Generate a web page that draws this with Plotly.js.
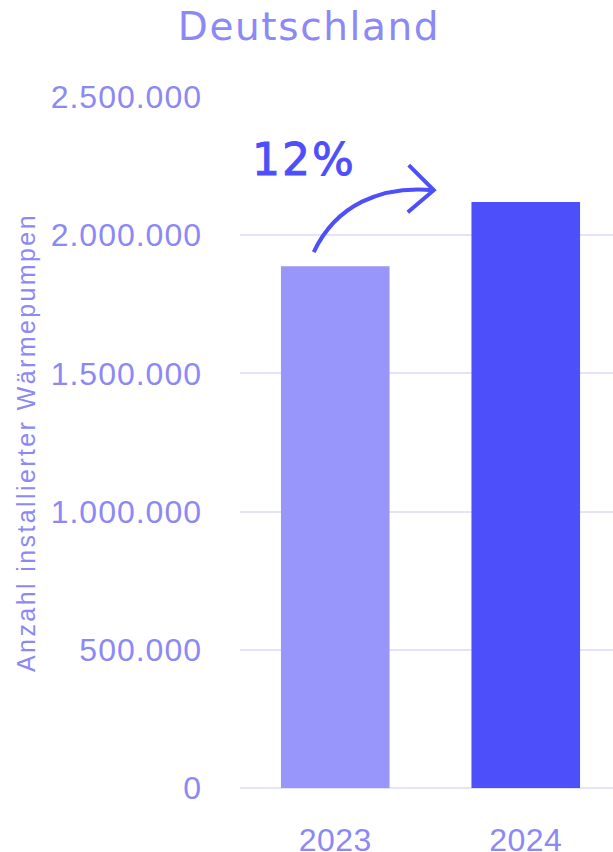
<!DOCTYPE html>
<html><head><meta charset="utf-8">
<script src="https://cdn.plot.ly/plotly-3.0.1.min.js"></script>
<style>
html,body{margin:0;padding:0;background:#fff;}
#chart{width:613px;height:852px;}
#chart .ytitle{letter-spacing:2.4px;}
#chart .gtitle{letter-spacing:1.6px;}
#chart .ytick text{letter-spacing:1px;}
#chart .xtick text{letter-spacing:0.5px;}
#chart .annotation-text{letter-spacing:2px;stroke:#4c4ffa;stroke-width:0.9px;}
</style>
</head><body><div id="chart"></div>
<script>
const categories = ['2023', '2024'];
const values = [1888000, 2120000];
const barColors = ['#9896fa', '#4c4ffa'];
const yTickVals = [0, 500000, 1000000, 1500000, 2000000, 2500000];
const growthLabel = '12%';
const chartTitle = 'Deutschland';
const yTitle = 'Anzahl installierter Wärmepumpen';

const lav = '#8c89f7';
const trace = {
  type: 'bar', x: categories, y: values,
  marker: {color: barColors}, hoverinfo: 'skip'
};
const layout = {
  width: 613, height: 852,
  margin: {l: 240, r: 0, t: 97, b: 64},
  paper_bgcolor: '#fff', plot_bgcolor: '#fff',
  separators: ',.',
  bargap: 0.43,
  showlegend: false,
  title: {text: chartTitle, x: 0.504, xanchor: 'center', y: 0.969, yanchor: 'middle',
          font: {family: 'DejaVu Sans', size: 39, color: lav}},
  xaxis: {type: 'category', range: [-0.5, 1.458], showgrid: false, zeroline: false,
          showline: false, ticks: '', ticklabelstandoff: 30,
          tickfont: {family: 'Liberation Sans', size: 32, color: lav}},
  yaxis: {range: [0, 2500000], tickvals: yTickVals, tickformat: ',d',
          showgrid: true, gridcolor: '#e4e3fb', gridwidth: 2,
          zeroline: true, zerolinecolor: '#e4e3fb', zerolinewidth: 2,
          showline: false, ticks: '', ticklabelstandoff: 37,
          tickfont: {family: 'Liberation Sans', size: 32, color: lav},
          title: {text: yTitle, standoff: 16, font: {family: 'Liberation Sans', size: 25, color: lav}}},
  annotations: [{
    text: growthLabel, xref: 'x', yref: 'y', x: 0, y: values[0],
    xshift: -31, yshift: 107, showarrow: false, xanchor: 'center', yanchor: 'middle',
    font: {family: 'DejaVu Sans', size: 44, color: barColors[1]}
  }],
  shapes: [
    {type: 'path', xref: 'x', yref: 'y', xsizemode: 'pixel', ysizemode: 'pixel',
     xanchor: 0, yanchor: values[0],
     path: 'M -21.5 14 C 0.5 61, 45.5 81, 98.5 76',
     line: {color: barColors[1], width: 4}},
    {type: 'path', xref: 'x', yref: 'y', xsizemode: 'pixel', ysizemode: 'pixel',
     xanchor: 0, yanchor: values[0],
     path: 'M 73.5 101 L 98.5 76 L 72.5 54',
     line: {color: barColors[1], width: 4}}
  ]
};
Plotly.newPlot('chart', [trace], layout, {displayModeBar: false, staticPlot: true});
</script></body></html>
